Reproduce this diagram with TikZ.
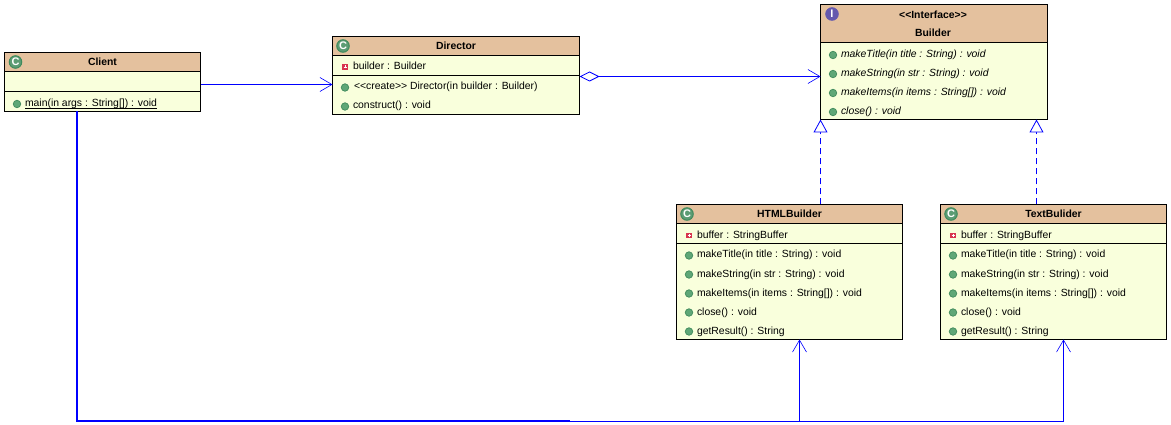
\documentclass[tikz,border=0pt]{standalone}
\usepackage{fontspec}
\setmainfont{Liberation Sans}
\usetikzlibrary{arrows.meta}
\definecolor{headtan}{HTML}{E4C19E}
\definecolor{bodylime}{HTML}{F9FFDC}
\definecolor{ballgreen}{HTML}{5FA777}
\definecolor{ballrim}{HTML}{3F8A5C}
\definecolor{iconpurple}{HTML}{6559AE}
\definecolor{privred}{HTML}{D8344F}
\definecolor{linkblue}{HTML}{0000FF}

\begin{document}
\begin{tikzpicture}[x=1pt,y=-1pt]
	\tikzset{every node/.style={font=\fontsize{10.4}{12}\selectfont,outer sep=0pt}}
	\tikzset{ClassStyle/.style = {draw=black,line width=1pt,fill=bodylime,anchor=north west,inner sep=0pt}}
	\tikzset{HeadStyle/.style = {draw=black,line width=1pt,fill=headtan,anchor=north west,inner sep=0pt,text height=8pt,text depth=1pt,font=\fontsize{10.4}{12}\selectfont\bfseries}}
	\tikzset{StereoStyle/.style = {inner sep=0pt,text height=8pt,text depth=1pt,font=\fontsize{10.4}{12}\selectfont\bfseries}}
	\tikzset{IconStyle/.style = {shape=circle,draw=ballrim,line width=1pt,fill=ballrim!85,text=white,minimum size=12.5pt,inner sep=0pt,font=\fontsize{11}{11}\selectfont\bfseries}}
	\tikzset{PubStyle/.style = {shape=circle,draw=ballrim,line width=.7pt,fill=ballgreen,minimum size=7.5pt,inner sep=0pt}}
	\tikzset{PrivStyle/.style = {shape=rectangle,fill=privred,minimum size=5.5pt,inner sep=0pt,
		path picture={\draw[white,line width=.8pt] ([xshift=-1.5pt]path picture bounding box.center) -- ([xshift=1.5pt]path picture bounding box.center) ([yshift=-1.5pt]path picture bounding box.center) -- ([yshift=1.5pt]path picture bounding box.center);}}}
	\tikzset{MemberStyle/.style = {anchor=west,inner sep=0pt,text height=8pt,text depth=0pt}}
	\tikzset{AbstractStyle/.style = {MemberStyle,font=\fontsize{10.4}{12}\selectfont\itshape}}
	\tikzset{DivideStyle/.style = {draw=black,line width=1pt}}
	\tikzset{AssocStyle/.style = {draw=linkblue,line width=1pt,-{Straight Barb[length=12pt,width=14pt,line width=.6pt]}}}
	\useasboundingbox (0,0) rectangle (1171,425);
	% Client
	\node[ClassStyle,minimum width=196pt,minimum height=59pt] (client) at (4.5,52.5) {};
	\node[HeadStyle,minimum width=196pt,minimum height=19pt] (clienthead) at (client.north west) {Client};
	\draw[DivideStyle] (4.5,91.5) -- (200.5,91.5);
	\node[IconStyle] (clienticon) at (15.5,62) {C};
	\node[PubStyle] (clientdot1) at (17,104) {};
	\node[MemberStyle] (clientm1) at (25,102.5) {main(in args : String[]) : void};
	\draw[line width=.8pt] ([yshift=-1.5pt]clientm1.base west) -- ([yshift=-1.5pt]clientm1.base east);
	% Director
	\node[ClassStyle,minimum width=247pt,minimum height=78pt] (director) at (332.5,36.5) {};
	\node[HeadStyle,minimum width=247pt,minimum height=19pt] (directorhead) at (director.north west) {Director};
	\draw[DivideStyle] (332.5,75.5) -- (579.5,75.5);
	\node[IconStyle] (directoricon) at (343,46) {C};
	\node[PrivStyle] (directordot1) at (345,67) {};
	\node[MemberStyle] (directorf1) at (353,66) {builder : Builder};
	\node[PubStyle] (directordot2) at (345,87.5) {};
	\node[MemberStyle] (directorm1) at (354,86) {<{}<create>{}> Director(in builder : Builder)};
	\node[PubStyle] (directordot3) at (345,106.5) {};
	\node[MemberStyle] (directorm2) at (353,105) {construct() : void};
	% Builder
	\node[ClassStyle,minimum width=227pt,minimum height=115pt] (builder) at (820.5,4.5) {};
	\node[HeadStyle,minimum width=227pt,minimum height=38pt] (builderhead) at (builder.north west) {};
	\node[StereoStyle] (builderstereo) at (933,15) {<{}<Interface>{}>};
	\node[StereoStyle] (buildername) at (933,33.5) {Builder};
	\node[IconStyle,draw=iconpurple,fill=iconpurple] (buildericon) at (832,14) {I};
	\node[PubStyle] (builderdot1) at (833,55) {};
	\node[AbstractStyle] (builderm1) at (841,53.5) {makeTitle(in title : String) : void};
	\node[PubStyle] (builderdot2) at (833,74) {};
	\node[AbstractStyle] (builderm2) at (841,72.5) {makeString(in str : String) : void};
	\node[PubStyle] (builderdot3) at (833,93) {};
	\node[AbstractStyle] (builderm3) at (841,91.5) {makeItems(in items : String[]) : void};
	\node[PubStyle] (builderdot4) at (833,112) {};
	\node[AbstractStyle] (builderm4) at (841,110.5) {close() : void};
	% HTMLBuilder
	\node[ClassStyle,minimum width=226pt,minimum height=135pt] (htmlbuilder) at (676.5,204.5) {};
	\node[HeadStyle,minimum width=226pt,minimum height=19pt] (htmlhead) at (htmlbuilder.north west) {HTMLBuilder};
	\draw[DivideStyle] (676.5,243.5) -- (902.5,243.5);
	\node[IconStyle] (htmlicon) at (687,214) {C};
	\node[PrivStyle] (htmldot0) at (689,235.5) {};
	\node[MemberStyle] (htmlf1) at (697,234.5) {buffer : StringBuffer};
	\node[PubStyle] (htmldot1) at (689,255.5) {};
	\node[MemberStyle] (htmlm1) at (697,254) {makeTitle(in title : String) : void};
	\node[PubStyle] (htmldot2) at (689,274.5) {};
	\node[MemberStyle] (htmlm2) at (697,273) {makeString(in str : String) : void};
	\node[PubStyle] (htmldot3) at (689,293.5) {};
	\node[MemberStyle] (htmlm3) at (697,292) {makeItems(in items : String[]) : void};
	\node[PubStyle] (htmldot4) at (689,312.5) {};
	\node[MemberStyle] (htmlm4) at (697,311) {close() : void};
	\node[PubStyle] (htmldot5) at (689,331.5) {};
	\node[MemberStyle] (htmlm5) at (697,330) {getResult() : String};
	% TextBulider
	\node[ClassStyle,minimum width=226pt,minimum height=135pt] (textbuilder) at (940.5,204.5) {};
	\node[HeadStyle,minimum width=226pt,minimum height=19pt] (texthead) at (textbuilder.north west) {TextBulider};
	\draw[DivideStyle] (940.5,243.5) -- (1166.5,243.5);
	\node[IconStyle] (texticon) at (951,214) {C};
	\node[PrivStyle] (textdot0) at (953,235.5) {};
	\node[MemberStyle] (textf1) at (961,234.5) {buffer : StringBuffer};
	\node[PubStyle] (textdot1) at (953,255.5) {};
	\node[MemberStyle] (textm1) at (961,254) {makeTitle(in title : String) : void};
	\node[PubStyle] (textdot2) at (953,274.5) {};
	\node[MemberStyle] (textm2) at (961,273) {makeString(in str : String) : void};
	\node[PubStyle] (textdot3) at (953,293.5) {};
	\node[MemberStyle] (textm3) at (961,292) {makeItems(in items : String[]) : void};
	\node[PubStyle] (textdot4) at (953,312.5) {};
	\node[MemberStyle] (textm4) at (961,311) {close() : void};
	\node[PubStyle] (textdot5) at (953,331.5) {};
	\node[MemberStyle] (textm5) at (961,330) {getResult() : String};
	% links
	\draw[AssocStyle] ([yshift=-2.5pt]client.east) -- ([yshift=-9pt]director.west);
	\draw[AssocStyle,{Diamond[open,fill=white,length=20pt,width=10pt,line width=.8pt]}-{Straight Barb[length=12pt,width=14pt,line width=.6pt]}] ([yshift=-1pt]director.east) -- ([yshift=-1pt]director.east -| builder.west);
	% realizes
	{
		\tikzset{RealizeStyle/.style={draw=linkblue,line width=1pt,dash pattern=on 6pt off 4pt,-{Triangle[open,fill=white,length=13pt,width=14pt,line width=.8pt]}}}
		\draw[RealizeStyle] ([xshift=31pt]htmlbuilder.north) -- (builder.south west);
		\draw[RealizeStyle] ([xshift=-17pt]textbuilder.north) -- ([xshift=216pt]builder.south west);
	}
	% uses
	\coordinate (busend) at (570,421);
	\draw[draw=linkblue,line width=2.2pt] ([xshift=-25.5pt]client.south) |- (busend);
	\draw[AssocStyle] (busend) -| ([xshift=10pt]htmlbuilder.south);
	\draw[AssocStyle] (busend) -| ([xshift=10pt]textbuilder.south);
\end{tikzpicture}
\end{document}
